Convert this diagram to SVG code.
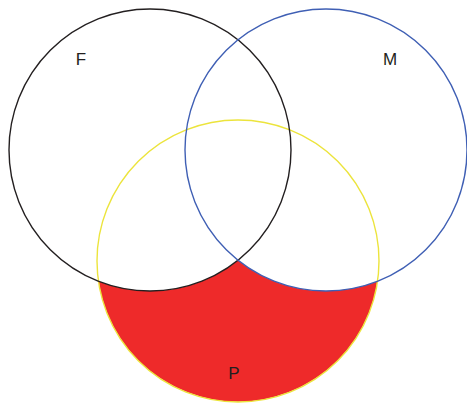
<svg xmlns="http://www.w3.org/2000/svg" width="467" height="405" viewBox="0 0 467 405">
<style>
.c{fill:none;stroke-width:1.4}
.t{font-family:"Liberation Sans",Arial,sans-serif;font-size:17px;fill:#231f20;text-anchor:middle}
</style>
<rect width="467" height="405" fill="#ffffff"/>
<g id="region-P-only">
<path d="M238,260.2 A141,141 0 0 1 98.5,281.2 A141,141 0 0 0 377.5,281.2 A141,141 0 0 1 238,260.2 Z" fill="#ee2a2a"/>
</g>
<g id="P">
<circle class="c" cx="238" cy="261" r="141" stroke="#ece43c"/>
<text class="t" x="234" y="379">P</text>
</g>
<g id="F">
<circle class="c" cx="150" cy="150" r="141" stroke="#231f20"/>
<text class="t" x="81" y="65">F</text>
</g>
<g id="M">
<circle class="c" cx="326" cy="150" r="141" stroke="#3f5fb4"/>
<text class="t" x="390" y="65">M</text>
</g>
<g id="connectors"/>
</svg>
